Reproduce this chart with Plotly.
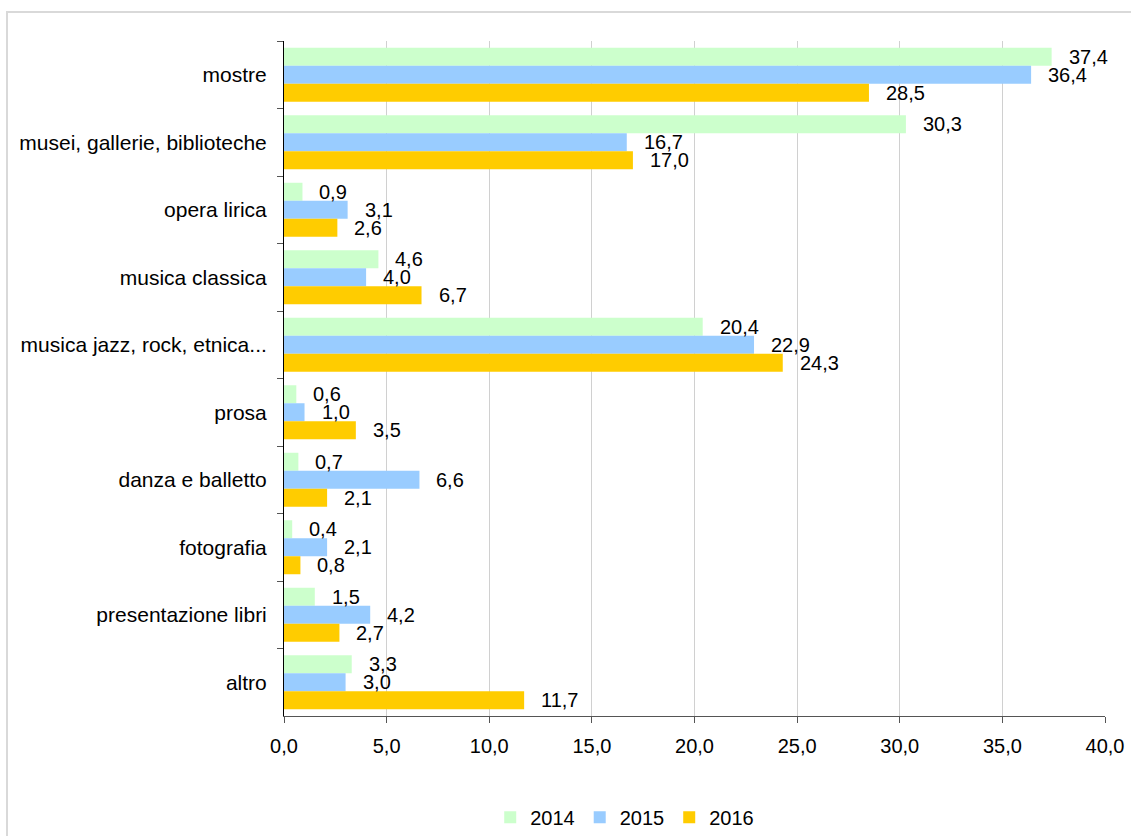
import plotly.graph_objects as go

# Event categories and shares (%) per year
categories = [
    "mostre",
    "musei, gallerie, biblioteche",
    "opera lirica",
    "musica classica",
    "musica jazz, rock, etnica...",
    "prosa",
    "danza e balletto",
    "fotografia",
    "presentazione libri",
    "altro",
]
years = ["2014", "2015", "2016"]
values_2014 = [37.4, 30.3, 0.9, 4.6, 20.4, 0.6, 0.7, 0.4, 1.5, 3.3]
values_2015 = [36.4, 16.7, 3.1, 4.0, 22.9, 1.0, 6.6, 2.1, 4.2, 3.0]
values_2016 = [28.5, 17.0, 2.6, 6.7, 24.3, 3.5, 2.1, 0.8, 2.7, 11.7]
colors = ["#CCFFCC", "#99CCFF", "#FFCC00"]

series = [values_2014, values_2015, values_2016]
font_family = "Liberation Sans, Arial, sans-serif"

fig = go.Figure()
for name, vals, col in zip(years, series, colors):
    fig.add_trace(go.Bar(
        y=categories, x=vals, name=name, orientation="h",
        marker=dict(color=col, line=dict(width=0)),
    ))

# Value labels to the right of each bar
bargap = 0.2
n = len(series)
slot = (1 - bargap) / n
annotations = []
for k, vals in enumerate(series):
    off = -(1 - bargap) / 2 + (k + 0.5) * slot
    for i, v in enumerate(vals):
        annotations.append(dict(
            x=v, y=i + off, xref="x", yref="y",
            text=f"{v:.1f}".replace(".", ","),
            showarrow=False, xanchor="left", yanchor="middle",
            xshift=15, font=dict(family=font_family, size=20, color="#000000"),
        ))

fig.update_layout(
    width=1131, height=836,
    margin=dict(l=284, r=26, t=41, b=120, autoexpand=False),
    paper_bgcolor="white", plot_bgcolor="white",
    barmode="group", bargap=bargap, bargroupgap=0,
    separators=",.",
    font=dict(family=font_family, size=20, color="#000000"),
    showlegend=True,
    legend=dict(
        orientation="h", x=0.415, xanchor="center", y=-0.15, yanchor="middle",
        traceorder="normal", font=dict(size=20),
    ),
    annotations=annotations,
    shapes=[dict(
        type="rect", xref="paper", yref="paper",
        x0=-0.3374, x1=1.2, y0=-0.4, y1=1.043,
        line=dict(color="#D9D9D9", width=2), fillcolor="rgba(0,0,0,0)", layer="below",
    )],
)

fig.update_xaxes(
    range=[0, 40], dtick=5, tickformat=".1f",
    showgrid=True, gridcolor="#D0D0D0", gridwidth=1,
    showline=True, linecolor="#555555", linewidth=1,
    ticks="outside", ticklen=6, tickcolor="#555555",
    ticklabelstandoff=6, tickfont=dict(size=20), zeroline=False, automargin=False,
)
fig.update_yaxes(
    categoryorder="array", categoryarray=categories, autorange="reversed",
    showline=True, linecolor="#000000", linewidth=1,
    ticks="outside", ticklen=6, tickcolor="#555555", tickson="boundaries",
    ticklabelstandoff=12, tickfont=dict(size=21), showgrid=False, automargin=False,
)

fig.write_html("out.html")
